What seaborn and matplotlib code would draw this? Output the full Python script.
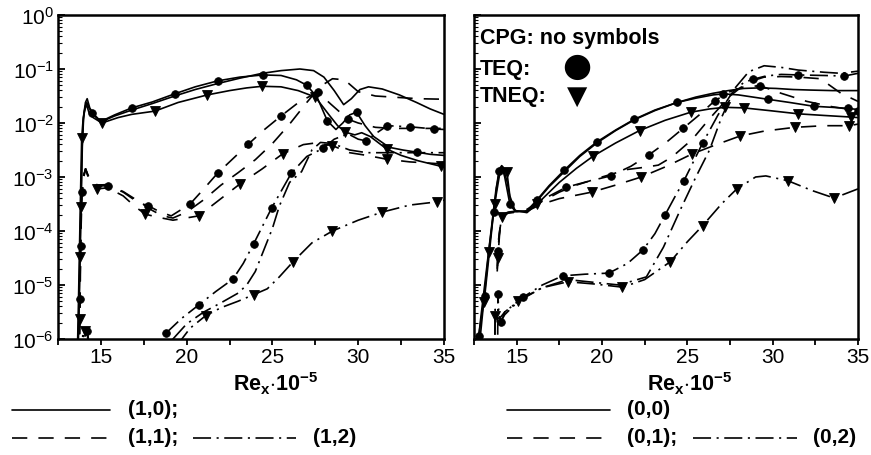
import numpy as np
import matplotlib
matplotlib.use("Agg")
import matplotlib.pyplot as plt
import seaborn as sns
from matplotlib.lines import Line2D
from matplotlib.ticker import FixedLocator, LogLocator, NullFormatter

# ---------------- data (x = Re_x*1e-5, y given as log10 values) ----------------
X_TICKS = [15, 20, 25, 30, 35]
X_MINOR = [12.5, 17.5, 22.5, 27.5, 32.5]

# Left panel: modes (1,0) solid, (1,1) dashed, (1,2) dash-dot
L_CPG_SOLID_X = [13.66, 13.74, 13.80, 13.86, 13.92, 14.00, 14.10, 14.20, 14.35, 14.60, 15.00, 15.80, 16.80, 18.00, 19.30, 20.50, 21.80, 23.10, 24.40, 25.50, 26.60, 27.40, 28.00, 28.60, 29.15, 29.60, 30.10, 30.60, 31.40, 32.40, 33.40, 34.20, 35.00]
L_CPG_SOLID_LOGY = [-6.4, -5.3, -4.3, -3.3, -2.4, -1.85, -1.62, -1.55, -1.72, -1.86, -1.98, -1.87, -1.76, -1.64, -1.50, -1.38, -1.27, -1.17, -1.08, -1.03, -1.00, -1.03, -1.15, -1.40, -1.66, -1.55, -1.38, -1.33, -1.37, -1.48, -1.62, -1.74, -1.84]
L_CPG_SOLID_MARK = []

L_TEQ_SOLID_X = [13.64, 13.72, 13.78, 13.84, 13.90, 13.98, 14.08, 14.18, 14.30, 14.50, 15.00, 15.80, 16.80, 18.00, 19.30, 20.50, 21.80, 23.10, 24.45, 25.50, 26.40, 27.00, 27.60, 28.20, 28.70, 29.10, 29.50, 29.90, 30.40, 30.90, 31.80, 32.60, 33.40, 34.20, 35.00]
L_TEQ_SOLID_LOGY = [-6.4, -5.4, -4.4, -3.4, -2.5, -1.9, -1.7, -1.62, -1.72, -1.81, -1.97, -1.85, -1.72, -1.61, -1.46, -1.33, -1.22, -1.15, -1.11, -1.12, -1.20, -1.30, -1.52, -1.96, -2.12, -2.0, -1.85, -1.80, -2.05, -2.25, -2.45, -2.50, -2.54, -2.58, -2.60]
L_TEQ_SOLID_MARK = [9, 12, 14, 16, 18, 21, 23, 27, 32]

L_TNEQ_SOLID_X = [13.62, 13.70, 13.76, 13.82, 13.88, 13.96, 14.05, 14.15, 14.30, 14.55, 15.06, 16.00, 16.80, 18.15, 19.50, 21.20, 22.50, 23.50, 24.40, 25.50, 26.50, 27.50, 28.30, 28.80, 29.25, 29.80, 30.20, 30.70, 31.65, 32.50, 33.50, 34.80, 35.00]
L_TNEQ_SOLID_LOGY = [-6.4, -5.2, -4.2, -3.2, -2.28, -1.95, -1.78, -1.65, -1.8, -1.9, -2.0, -1.9, -1.84, -1.78, -1.62, -1.48, -1.40, -1.35, -1.32, -1.33, -1.40, -1.52, -1.85, -2.05, -2.17, -2.22, -2.18, -2.25, -2.48, -2.6, -2.7, -2.8, -2.81]
L_TNEQ_SOLID_MARK = [4, 10, 13, 15, 18, 21, 24, 28, 31]

L_CPG_DASH_X = [13.73, 13.78, 13.84, 13.90, 14.00, 14.10, 14.30, 14.80, 15.40, 16.30, 17.20, 18.00, 18.60, 19.20, 20.00, 21.00, 22.00, 23.00, 24.00, 25.00, 26.00, 27.00, 27.80, 28.50, 29.20, 30.00, 31.00, 32.00, 33.50, 35.00]
L_CPG_DASH_LOGY = [-6.4, -5.0, -4.0, -3.3, -3.0, -2.85, -3.0, -3.15, -3.14, -3.27, -3.45, -3.62, -3.72, -3.76, -3.65, -3.42, -3.15, -2.92, -2.68, -2.38, -2.02, -1.62, -1.32, -1.18, -1.2, -1.42, -1.5, -1.52, -1.55, -1.56]
L_CPG_DASH_MARK = []

L_TEQ_DASH_X = [13.74, 13.79, 13.82, 13.85, 13.90, 14.00, 14.10, 14.30, 14.80, 15.40, 16.30, 17.20, 17.75, 18.40, 19.10, 20.20, 21.00, 21.80, 22.70, 23.60, 24.50, 25.50, 26.60, 27.65, 28.40, 29.40, 30.00, 31.00, 32.00, 33.50, 35.00]
L_TEQ_DASH_LOGY = [-6.4, -5.26, -4.27, -3.6, -3.28, -3.0, -2.85, -3.02, -3.17, -3.16, -3.28, -3.48, -3.53, -3.64, -3.72, -3.50, -3.22, -2.93, -2.66, -2.39, -2.13, -1.87, -1.6, -1.43, -1.65, -1.93, -2.0, -2.08, -2.1, -2.1, -2.1]
L_TEQ_DASH_MARK = [1, 2, 4, 9, 12, 15, 17, 19, 21, 23, 25]

L_TNEQ_DASH_X = [13.72, 13.76, 13.80, 13.84, 13.90, 14.00, 14.12, 14.30, 14.80, 15.40, 16.30, 17.00, 17.60, 18.40, 19.20, 20.70, 22.00, 23.10, 24.40, 25.60, 26.80, 27.50, 28.50, 29.50, 30.50, 31.65, 33.00, 35.00]
L_TNEQ_DASH_LOGY = [-6.4, -5.63, -4.48, -3.56, -3.2, -2.95, -2.85, -3.05, -3.22, -3.2, -3.35, -3.55, -3.69, -3.75, -3.8, -3.72, -3.4, -3.13, -2.85, -2.57, -2.4, -2.37, -2.42, -2.55, -2.6, -2.67, -2.72, -2.76]
L_TNEQ_DASH_MARK = [1, 2, 3, 8, 12, 15, 17, 19, 22, 25]

L_CPG_DDOT_X = [13.86, 13.95, 14.10, 14.25, 14.45, 18.60, 19.20, 20.00, 21.00, 22.00, 23.00, 23.50, 24.00, 24.45, 25.00, 25.40, 26.00, 26.70, 27.30, 27.80, 28.50, 29.50, 30.50, 32.00, 33.50, 35.00]
L_CPG_DDOT_LOGY = [-6.4, -5.9, -5.85, -5.95, -6.4, -6.4, -6.0, -5.72, -5.5, -5.33, -5.15, -5.0, -4.75, -4.39, -3.95, -3.54, -3.1, -2.9, -2.5, -2.36, -2.38, -2.5, -2.55, -2.55, -2.55, -2.55]
L_CPG_DDOT_MARK = []

L_TEQ_DDOT_X = [13.90, 14.00, 14.20, 14.40, 18.40, 18.80, 19.70, 20.70, 21.70, 22.70, 23.30, 23.90, 24.96, 26.10, 27.00, 27.95, 28.60, 29.40, 30.00, 30.45, 31.00, 31.70, 33.00, 34.40, 35.00]
L_TEQ_DDOT_LOGY = [-6.4, -5.95, -5.85, -6.4, -6.4, -5.89, -5.62, -5.37, -5.12, -4.89, -4.6, -4.24, -3.57, -2.93, -2.62, -2.47, -2.3, -2.2, -2.3, -2.33, -2.2, -2.05, -2.07, -2.11, -2.12]
L_TEQ_DDOT_MARK = [2, 5, 7, 9, 11, 12, 13, 15, 19, 21, 22, 23]

L_TNEQ_DDOT_X = [13.84, 13.92, 14.05, 14.20, 14.40, 19.00, 19.60, 20.20, 21.10, 22.00, 23.00, 23.90, 24.70, 25.40, 26.20, 27.30, 28.50, 30.00, 31.40, 33.00, 34.60, 35.00]
L_TNEQ_DDOT_LOGY = [-6.4, -6.0, -5.85, -5.9, -6.4, -6.4, -6.05, -5.8, -5.57, -5.42, -5.3, -5.18, -5.07, -4.85, -4.57, -4.22, -4.0, -3.8, -3.65, -3.52, -3.46, -3.43]
L_TNEQ_DDOT_MARK = [2, 8, 11, 14, 16, 18, 20]

# Right panel: modes (0,0) solid, (0,1) dashed, (0,2) dash-dot
R_CPG_SOLID_X = [12.62, 12.90, 13.20, 13.50, 13.80, 14.05, 14.20, 14.45, 14.70, 15.00, 15.60, 16.20, 16.90, 17.80, 18.70, 19.70, 20.80, 21.90, 23.10, 24.40, 25.50, 26.50, 27.40, 28.30, 29.20, 30.20, 31.20, 32.20, 33.50, 35.00]
R_CPG_SOLID_LOGY = [-6.4, -5.6, -4.8, -4.0, -3.2, -2.82, -2.82, -3.1, -3.55, -3.64, -3.64, -3.44, -3.18, -2.9, -2.62, -2.37, -2.14, -1.94, -1.77, -1.62, -1.52, -1.45, -1.4, -1.36, -1.35, -1.36, -1.38, -1.39, -1.4, -1.4]
R_CPG_SOLID_MARK = []

R_TEQ_SOLID_X = [12.60, 12.77, 13.13, 13.40, 13.65, 13.95, 14.12, 14.30, 14.60, 14.90, 15.60, 16.20, 16.90, 17.80, 18.70, 19.70, 20.80, 21.90, 23.10, 24.40, 25.50, 26.50, 27.10, 28.00, 29.70, 31.00, 32.40, 33.50, 34.40, 35.00]
R_TEQ_SOLID_LOGY = [-6.5, -5.94, -5.2, -4.4, -3.64, -2.89, -2.79, -3.0, -3.5, -3.63, -3.63, -3.42, -3.16, -2.87, -2.6, -2.35, -2.13, -1.93, -1.76, -1.62, -1.54, -1.48, -1.46, -1.48, -1.56, -1.62, -1.69, -1.71, -1.73, -1.75]
R_TEQ_SOLID_MARK = [1, 2, 4, 5, 8, 11, 13, 15, 17, 19, 22, 24, 26, 28]

R_TNEQ_SOLID_X = [12.70, 13.07, 13.36, 13.71, 14.00, 14.15, 14.43, 14.60, 14.90, 15.60, 16.20, 17.50, 18.50, 19.50, 20.80, 22.20, 23.70, 25.20, 26.30, 27.20, 28.30, 29.80, 31.50, 33.00, 34.60, 35.00]
R_TNEQ_SOLID_LOGY = [-6.5, -5.31, -4.39, -3.5, -2.95, -2.8, -2.91, -3.35, -3.62, -3.66, -3.5, -3.1, -2.84, -2.61, -2.37, -2.14, -1.95, -1.8, -1.74, -1.71, -1.72, -1.77, -1.83, -1.86, -1.89, -1.9]
R_TNEQ_SOLID_MARK = [1, 2, 3, 6, 10, 13, 15, 17, 19, 20, 22, 24]

R_CPG_DASH_X = [13.88, 13.92, 14.05, 14.15, 14.50, 15.00, 15.60, 16.50, 17.50, 18.50, 20.00, 21.50, 22.50, 23.30, 24.10, 25.30, 26.30, 27.50, 28.50, 29.50, 30.50, 31.50, 32.80, 34.00, 35.00]
R_CPG_DASH_LOGY = [-4.65, -4.2, -3.9, -3.72, -3.66, -3.64, -3.62, -3.45, -3.28, -3.15, -3.0, -2.86, -2.82, -2.78, -2.63, -2.3, -1.92, -1.5, -1.25, -1.15, -1.14, -1.15, -1.18, -1.45, -1.6]
R_CPG_DASH_MARK = []

R_TEQ_DASH_X = [13.86, 13.90, 14.00, 14.15, 14.50, 15.00, 15.60, 16.50, 17.90, 19.20, 20.50, 21.70, 22.75, 23.80, 24.75, 25.70, 26.60, 27.50, 28.30, 29.26, 30.50, 32.00, 33.50, 35.00]
R_TEQ_DASH_LOGY = [-4.7, -4.37, -4.0, -3.7, -3.65, -3.63, -3.6, -3.42, -3.19, -3.08, -2.98, -2.8, -2.59, -2.35, -2.1, -1.85, -1.59, -1.42, -1.33, -1.31, -1.45, -1.6, -1.7, -1.77]
R_TEQ_DASH_MARK = [1, 8, 10, 12, 14, 16, 19, 23]

R_TNEQ_DASH_X = [13.86, 13.90, 14.00, 14.12, 14.50, 15.00, 15.60, 16.50, 17.50, 19.40, 20.80, 22.30, 23.80, 25.30, 26.70, 28.10, 29.50, 31.30, 33.00, 34.50, 35.00]
R_TNEQ_DASH_LOGY = [-4.75, -4.5, -4.05, -3.74, -3.67, -3.65, -3.63, -3.5, -3.4, -3.28, -3.15, -3.0, -2.8, -2.57, -2.4, -2.24, -2.15, -2.08, -2.05, -2.05, -2.02]
R_TNEQ_DASH_MARK = [1, 3, 9, 11, 13, 15, 17, 19]

R_CPG_DDOT_X = [13.70, 13.74, 13.80, 14.00, 14.30, 15.30, 16.50, 18.00, 19.50, 21.00, 22.60, 23.60, 24.60, 25.50, 26.30, 27.00, 27.80, 28.60, 29.50, 30.50, 31.50, 33.00, 34.00, 35.00]
R_CPG_DDOT_LOGY = [-6.5, -5.45, -5.6, -5.62, -5.5, -5.25, -5.05, -4.9, -4.95, -5.0, -4.85, -4.3, -3.6, -3.0, -2.5, -1.9, -1.35, -1.05, -0.94, -0.97, -1.02, -1.06, -1.08, -1.04]
R_CPG_DDOT_MARK = []

R_TEQ_DDOT_X = [13.88, 13.90, 13.95, 14.08, 14.30, 15.40, 16.50, 17.70, 19.00, 20.40, 21.50, 22.40, 23.10, 23.70, 24.30, 24.80, 25.90, 26.80, 27.60, 28.30, 28.85, 29.60, 30.50, 31.50, 33.00, 34.20, 35.00]
R_TEQ_DDOT_LOGY = [-6.5, -5.17, -5.5, -5.69, -5.5, -5.22, -5.0, -4.83, -4.8, -4.78, -4.6, -4.35, -4.05, -3.7, -3.35, -3.07, -2.37, -1.85, -1.45, -1.25, -1.19, -1.13, -1.1, -1.11, -1.12, -1.13, -1.08]
R_TEQ_DDOT_MARK = [1, 3, 5, 7, 9, 11, 13, 15, 16, 20, 23, 25]

R_TNEQ_DDOT_X = [13.72, 13.74, 13.80, 14.00, 14.30, 15.10, 16.50, 18.00, 19.50, 21.20, 22.50, 24.00, 25.00, 25.90, 27.00, 27.90, 29.00, 29.60, 30.90, 32.30, 33.60, 35.00]
R_TNEQ_DDOT_LOGY = [-6.5, -5.57, -5.75, -5.72, -5.55, -5.3, -5.05, -4.94, -4.98, -5.04, -4.9, -4.57, -4.2, -3.9, -3.5, -3.22, -3.0, -2.98, -3.07, -3.25, -3.39, -3.22]
R_TNEQ_DDOT_MARK = [1, 5, 7, 9, 11, 13, 15, 18, 20]

LEFT_LEGEND = ["(1,0);", "(1,1);", "(1,2)"]
RIGHT_LEGEND = ["(0,0)", "(0,1);", "(0,2)"]
MODEL_TEXT = ["CPG: no symbols", "TEQ:", "TNEQ:"]
XLABEL = r"$\mathbf{Re}_{\mathbf{x}}\mathbf{\cdot 10^{-5}}$"

# ---------------- style ----------------
sns.set_theme(style="ticks", rc={
    "axes.edgecolor": "black", "text.color": "black", "xtick.color": "black",
    "ytick.color": "black", "axes.labelcolor": "black"})
plt.rcParams["font.family"] = ["Liberation Sans", "DejaVu Sans"]
plt.rcParams["mathtext.fontset"] = "custom"
plt.rcParams["mathtext.rm"] = "Liberation Sans"
plt.rcParams["mathtext.bf"] = "Liberation Sans:bold"
plt.rcParams["mathtext.it"] = "Liberation Sans:italic"
plt.rcParams["lines.scale_dashes"] = False

SOLID = "-"
DASH = (0, (11, 8))
DDOT = (0, (13, 4, 1.5, 4))
LW = 1.2
MS = {"o": 5.5, "v": 6.5}

W, H = 871, 456
fig = plt.figure(figsize=(W / 100, H / 100), dpi=100)
ax1 = fig.add_axes([58 / W, 1 - 340 / H, 386 / W, 324 / H])
ax2 = fig.add_axes([474 / W, 1 - 340 / H, 384 / W, 324 / H])
axes = [ax1, ax2]

for ax in axes:
    ax.set_yscale("log")
    ax.set_xlim(12.5, 35)
    ax.set_ylim(1e-6, 1)

CURVES = [
    (0, L_CPG_SOLID_X, L_CPG_SOLID_LOGY, L_CPG_SOLID_MARK, SOLID, None),
    (0, L_TEQ_SOLID_X, L_TEQ_SOLID_LOGY, L_TEQ_SOLID_MARK, SOLID, "o"),
    (0, L_TNEQ_SOLID_X, L_TNEQ_SOLID_LOGY, L_TNEQ_SOLID_MARK, SOLID, "v"),
    (0, L_CPG_DASH_X, L_CPG_DASH_LOGY, L_CPG_DASH_MARK, DASH, None),
    (0, L_TEQ_DASH_X, L_TEQ_DASH_LOGY, L_TEQ_DASH_MARK, DASH, "o"),
    (0, L_TNEQ_DASH_X, L_TNEQ_DASH_LOGY, L_TNEQ_DASH_MARK, DASH, "v"),
    (0, L_CPG_DDOT_X, L_CPG_DDOT_LOGY, L_CPG_DDOT_MARK, DDOT, None),
    (0, L_TEQ_DDOT_X, L_TEQ_DDOT_LOGY, L_TEQ_DDOT_MARK, DDOT, "o"),
    (0, L_TNEQ_DDOT_X, L_TNEQ_DDOT_LOGY, L_TNEQ_DDOT_MARK, DDOT, "v"),
    (1, R_CPG_SOLID_X, R_CPG_SOLID_LOGY, R_CPG_SOLID_MARK, SOLID, None),
    (1, R_TEQ_SOLID_X, R_TEQ_SOLID_LOGY, R_TEQ_SOLID_MARK, SOLID, "o"),
    (1, R_TNEQ_SOLID_X, R_TNEQ_SOLID_LOGY, R_TNEQ_SOLID_MARK, SOLID, "v"),
    (1, R_CPG_DASH_X, R_CPG_DASH_LOGY, R_CPG_DASH_MARK, DASH, None),
    (1, R_TEQ_DASH_X, R_TEQ_DASH_LOGY, R_TEQ_DASH_MARK, DASH, "o"),
    (1, R_TNEQ_DASH_X, R_TNEQ_DASH_LOGY, R_TNEQ_DASH_MARK, DASH, "v"),
    (1, R_CPG_DDOT_X, R_CPG_DDOT_LOGY, R_CPG_DDOT_MARK, DDOT, None),
    (1, R_TEQ_DDOT_X, R_TEQ_DDOT_LOGY, R_TEQ_DDOT_MARK, DDOT, "o"),
    (1, R_TNEQ_DDOT_X, R_TNEQ_DDOT_LOGY, R_TNEQ_DDOT_MARK, DDOT, "v"),
]

for panel, xs, ly, marks, ls, mk in CURVES:
    ax = axes[panel]
    yv = np.power(10.0, np.asarray(ly, dtype=float))
    kw = dict(color="black", linewidth=LW, linestyle=ls)
    if mk is not None:
        kw.update(marker=mk, markevery=marks, markersize=MS[mk],
                  markerfacecolor="black", markeredgecolor="black",
                  markeredgewidth=0.6)
    sns.lineplot(x=np.asarray(xs, dtype=float), y=yv, ax=ax, sort=False,
                 estimator=None, legend=False, **kw)

for i, ax in enumerate(axes):
    ax.set_xlim(12.5, 35)
    ax.set_ylim(1e-6, 1)
    ax.xaxis.set_major_locator(FixedLocator(X_TICKS))
    ax.xaxis.set_minor_locator(FixedLocator(X_MINOR))
    ax.yaxis.set_major_locator(LogLocator(base=10, numticks=10))
    ax.yaxis.set_minor_locator(LogLocator(base=10, subs=np.arange(2, 10), numticks=20))
    ax.yaxis.set_minor_formatter(NullFormatter())
    ax.tick_params(axis="x", which="both", direction="out", length=4, width=1.3,
                   labelsize=15, pad=2, top=False)
    ax.tick_params(axis="y", which="major", direction="in", length=5, width=1.3,
                   labelsize=15, pad=3, right=False)
    ax.tick_params(axis="y", which="minor", direction="in", length=3, width=0.8, right=False)
    for sp in ax.spines.values():
        sp.set_visible(True)
        sp.set_linewidth(1.8)
    ax.set_xlabel("")
    ax.set_ylabel("")
    ax.grid(False)

ax2.tick_params(axis="y", which="both", labelleft=False)

# x labels, just below the tick-label row
ax1.text((276 - 58) / 386, (340 - 391) / 324, XLABEL, transform=ax1.transAxes,
         ha="center", va="baseline", fontsize=15.5)
ax2.text((690 - 474) / 384, (340 - 391) / 324, XLABEL, transform=ax2.transAxes,
         ha="center", va="baseline", fontsize=15.5)

# model key inside right panel
ax2.text(0.0156, (340 - 44) / 324, MODEL_TEXT[0], transform=ax2.transAxes,
         ha="left", va="baseline", fontsize=15.5, fontweight="bold")
ax2.text(0.0156, (340 - 75) / 324, MODEL_TEXT[1], transform=ax2.transAxes,
         ha="left", va="baseline", fontsize=15.5, fontweight="bold")
ax2.text(0.0156, (340 - 102) / 324, MODEL_TEXT[2], transform=ax2.transAxes,
         ha="left", va="baseline", fontsize=15.5, fontweight="bold")
ax2.text((577 - 474) / 384, (340 - 66) / 324, "\u25CF", transform=ax2.transAxes,
         ha="center", va="center", fontsize=24, family="DejaVu Sans")
ax2.text((577 - 474) / 384, (340 - 97) / 324, "\u25BC", transform=ax2.transAxes,
         ha="center", va="center", fontsize=19, family="DejaVu Sans")

# line-style key below the panels
def key_line(x0, x1, y, ls):
    fig.add_artist(Line2D([x0 / W, x1 / W], [1 - y / H, 1 - y / H],
                          transform=fig.transFigure, color="black",
                          linewidth=LW, linestyle=ls))

def key_text(x, y, s):
    fig.text(x / W, 1 - y / H, s, ha="left", va="center", fontsize=15,
             fontweight="bold")

key_line(12, 110, 411, SOLID)
key_text(128, 410, LEFT_LEGEND[0])
key_line(12, 110, 439, DASH)
key_text(128, 438, LEFT_LEGEND[1])
key_line(193, 296, 439, DDOT)
key_text(313, 438, LEFT_LEGEND[2])

key_line(507, 610, 411, SOLID)
key_text(627, 410, RIGHT_LEGEND[0])
key_line(507, 610, 439, DASH)
key_text(627, 438, RIGHT_LEGEND[1])
key_line(693, 797, 439, DDOT)
key_text(813, 438, RIGHT_LEGEND[2])

fig.savefig("out.png", dpi=100)
